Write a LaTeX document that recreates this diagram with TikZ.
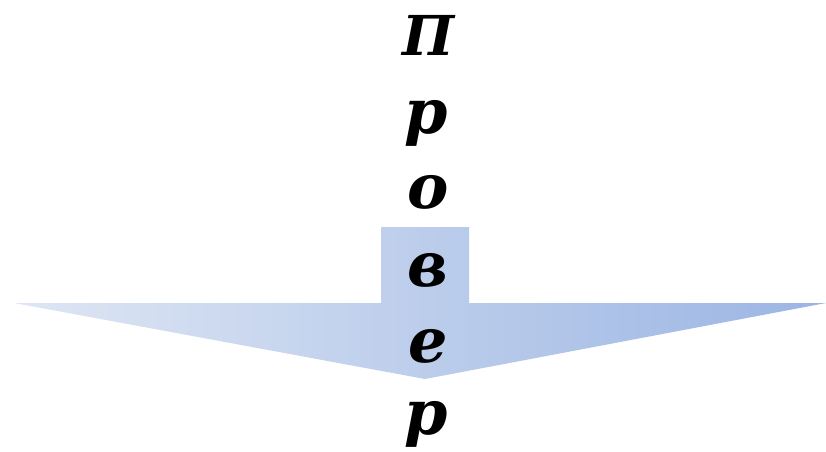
\documentclass[tikz,border=0pt]{standalone}
\usepackage{fontspec}
\newfontfamily\letterfont{DejaVu Serif}
\begin{document}
\begin{tikzpicture}[x=1pt,y=-1pt,
  letter/.style={anchor=base,inner sep=0pt,font=\letterfont\bfseries\itshape\fontsize{62}{62}\selectfont},
  capletter/.style={letter,font=\letterfont\bfseries\itshape\fontsize{55}{55}\selectfont}]
\useasboundingbox (0,0) rectangle (826,451);
\shade[left color={rgb,255:red,222;green,230;blue,244}, right color={rgb,255:red,155;green,181;blue,227}]
  (14,303) -- (381,303) -- (381,227) -- (469,227) -- (469,303) -- (826,303) -- (425,379) -- cycle;
\node[capletter] (l1) at (428,55) {П};
\node[letter] (l2) at (426,133) {р};
\node[letter] (l3) at (428,208) {о};
\node[letter] (l4) at (428,286) {в};
\node[letter] (l5) at (428,362) {е};
\node[letter] (l6) at (426,434) {р};
\end{tikzpicture}
\end{document}
